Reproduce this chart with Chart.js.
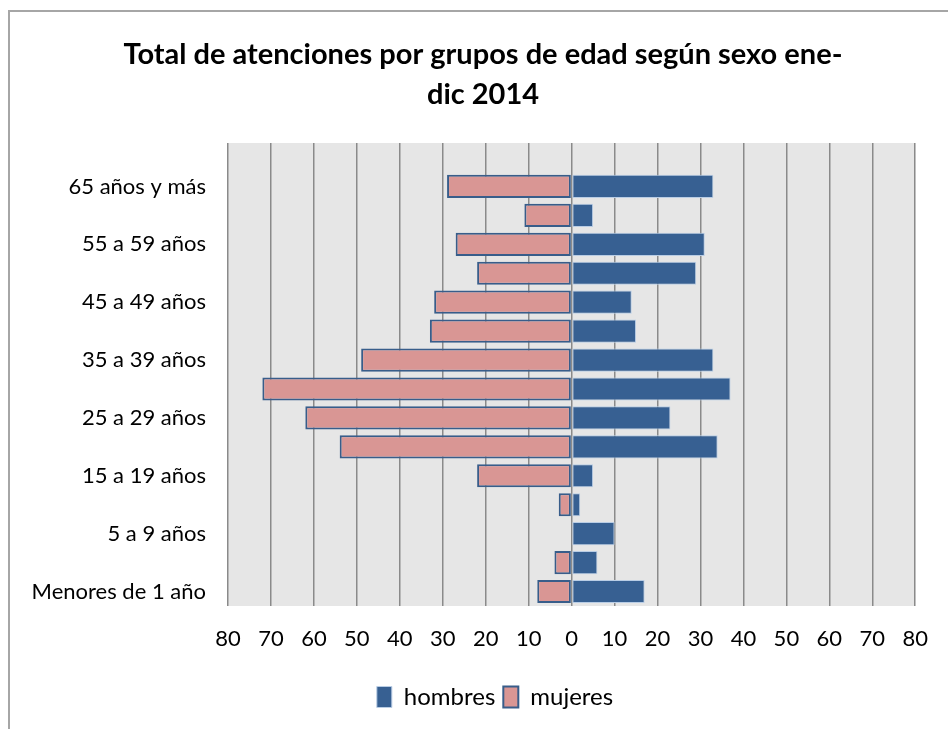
<!DOCTYPE html>
<html>
<head>
<meta charset="utf-8">
<script src="https://cdn.jsdelivr.net/npm/chart.js@4"></script>
<style>
  body { margin: 0; background: #fff; overflow: hidden; }
  #frame {
    position: absolute; left: 8px; top: 10px; width: 1000px; height: 800px;
    border-left: 2px solid #a6a6a6; border-top: 2px solid #a6a6a6;
  }
  #wrap { position: absolute; left: 0; top: 0; width: 948px; height: 729px; }
</style>
</head>
<body>
<div id="frame"></div>
<div id="wrap"><canvas id="chart" width="948" height="729"></canvas></div>
<script>
// grupos de edad, de menor a mayor (la última fila queda vacía, como en el original)
const grupos = [
  'Menores de 1 año', '1 a 4 años', '5 a 9 años', '10 a 14 años', '15 a 19 años',
  '20 a 24 años', '25 a 29 años', '30 a 34 años', '35 a 39 años', '40 a 44 años',
  '45 a 49 años', '50 a 54 años', '55 a 59 años', '60 a 64 años', '65 años y más', ''
];
const hombres = [17, 6, 10, 2, 5, 34, 23, 37, 33, 15, 14, 29, 31, 5, 33, null];
const mujeres = [8, 4, 0, 3, 22, 54, 62, 72, 49, 33, 32, 22, 27, 11, 29, null];
const titulo = ['Total de atenciones por grupos de edad según sexo ene-', 'dic 2014'];

const plotBg = {
  id: 'plotBg',
  beforeDraw(chart) {
    const a = chart.chartArea;
    const ctx = chart.ctx;
    ctx.save();
    ctx.fillStyle = '#e6e6e6';
    ctx.fillRect(a.left, a.top, a.right - a.left, a.bottom - a.top);
    ctx.restore();
  }
};

// title and legend sit a little right of the canvas centre in the original
const nudge = {
  id: 'nudge',
  afterLayout(chart) {
    if (chart.titleBlock) { chart.titleBlock.left += 16; chart.titleBlock.right += 16; }
    if (chart.legend) { chart.legend.left += 28; chart.legend.right += 28; }
  }
};

const ctx = document.getElementById('chart').getContext('2d');
new Chart(ctx, {
  type: 'bar',
  data: {
    labels: grupos,
    datasets: [
      {
        label: 'hombres',
        data: hombres,
        backgroundColor: '#376092',
        borderColor: '#b9cde5',
        borderWidth: 1,
        borderSkipped: false,
        barPercentage: 0.8,
        categoryPercentage: 1
      },
      {
        label: 'mujeres',
        data: mujeres.map((v) => (v === null ? null : -v)),
        backgroundColor: '#d99694',
        borderColor: '#385d8a',
        borderWidth: 2,
        borderSkipped: false,
        barPercentage: 0.8,
        categoryPercentage: 1
      }
    ]
  },
  options: {
    indexAxis: 'y',
    responsive: false,
    animation: false,
    layout: { padding: { left: 16, right: 30, top: 0, bottom: 10 } },
    scales: {
      x: {
        stacked: true,
        min: -80,
        max: 80,
        afterFit: (scale) => { scale.height = 71; },
        ticks: {
          stepSize: 10,
          padding: 20,
          color: '#000',
          font: { family: 'Lato', size: 22 },
          callback: (v) => Math.abs(v)
        },
        grid: { color: '#8a8a8a', lineWidth: 1.5, drawTicks: false },
        border: { display: false }
      },
      y: {
        stacked: true,
        reverse: true,
        afterFit: (scale) => { scale.width = 212; },
        ticks: {
          autoSkip: false,
          padding: 22,
          color: '#000',
          font: { family: 'Lato', size: 22 },
          callback: function (v, i) { return i % 2 === 0 ? this.getLabelForValue(v) : ''; }
        },
        grid: { display: false, drawTicks: false },
        border: { display: false }
      }
    },
    plugins: {
      title: {
        display: true,
        text: titulo,
        color: '#000',
        font: { family: 'Lato', size: 29, weight: 'bold', lineHeight: 1.38 },
        padding: { top: 35, bottom: 28 }
      },
      legend: {
        position: 'bottom',
        labels: {
          color: '#000',
          font: { family: 'Lato', size: 24 },
          boxWidth: 15,
          boxHeight: 21,
          padding: 8
        }
      },
      tooltip: { enabled: false }
    }
  },
  plugins: [plotBg, nudge]
});
</script>
</body>
</html>
